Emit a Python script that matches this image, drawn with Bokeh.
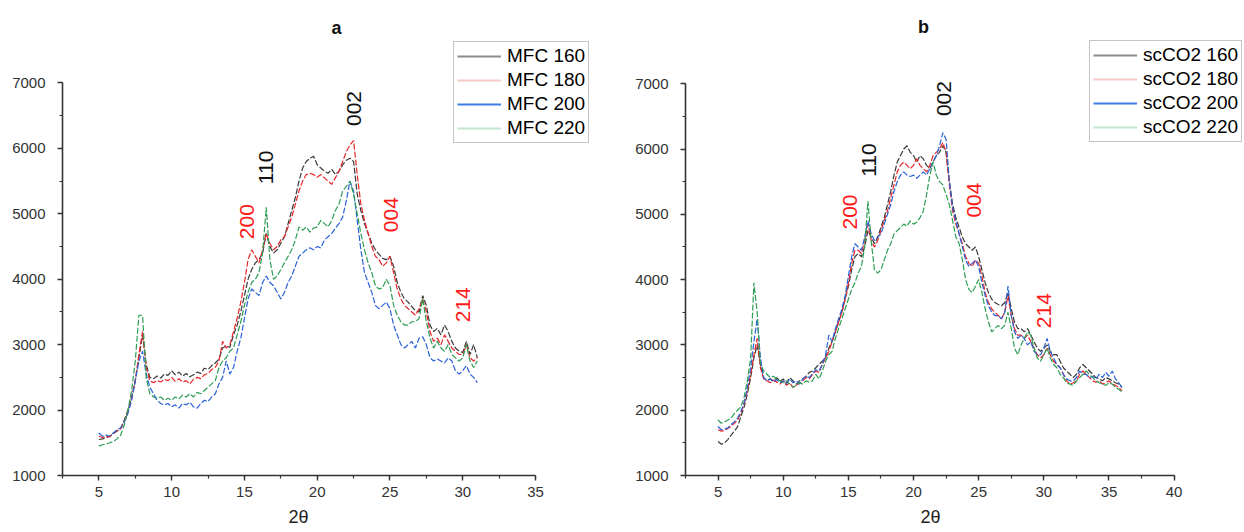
import math
from bokeh.plotting import figure
from bokeh.layouts import row
from bokeh.models import Legend, LegendItem, Label, SingleIntervalTicker, Range1d, Title
from bokeh.embed import file_html
from bokeh.resources import INLINE

# ---------------- data ----------------
two_theta_a = [
    5.0, 5.25, 5.5, 5.75, 6.0, 6.25, 6.5, 6.75, 7.0, 7.25, 7.5, 7.75,
    8.0, 8.25, 8.5, 8.75, 9.0, 9.25, 9.5, 9.75, 10.0, 10.25, 10.5, 10.75,
    11.0, 11.25, 11.5, 11.75, 12.0, 12.25, 12.5, 12.75, 13.0, 13.25, 13.5, 13.75,
    14.0, 14.25, 14.5, 14.75, 15.0, 15.25, 15.5, 15.75, 16.0, 16.25, 16.5, 16.75,
    17.0, 17.25, 17.5, 17.75, 18.0, 18.25, 18.5, 18.75, 19.0, 19.25, 19.5, 19.75,
    20.0, 20.25, 20.5, 20.75, 21.0, 21.25, 21.5, 21.75, 22.0, 22.25, 22.5, 22.75,
    23.0, 23.25, 23.5, 23.75, 24.0, 24.25, 24.5, 24.75, 25.0, 25.25, 25.5, 25.75,
    26.0, 26.25, 26.5, 26.75, 27.0, 27.25, 27.5, 27.75, 28.0, 28.25, 28.5, 28.75,
    29.0, 29.25, 29.5, 29.75, 30.0, 30.25, 30.5, 30.75, 31.0]

mfc_160 = [
    1550, 1560, 1580, 1600, 1640, 1680, 1720, 1850, 2000, 2200, 2450, 2800,
    3150, 2700, 2500, 2480, 2520, 2490, 2550, 2530, 2600, 2540, 2580, 2520,
    2560, 2510, 2540, 2580, 2560, 2640, 2620, 2680, 2720, 2780, 2950, 2980,
    2960, 3150, 3300, 3500, 3750, 4000, 4150, 4250, 4300, 4400, 4700, 4500,
    4400, 4450, 4550, 4650, 4850, 5050, 5250, 5500, 5700, 5800, 5850, 5880,
    5750, 5700, 5650, 5620, 5680, 5600, 5650, 5750, 5820, 5850, 5800, 5300,
    5050, 4850, 4700, 4550, 4450, 4380, 4320, 4300, 4350, 4200, 3950, 3800,
    3700, 3650, 3580, 3520, 3500, 3750, 3600, 3300, 3200, 3250, 3150, 3300,
    3200, 3050, 2950, 2900, 2880, 3050, 2850, 3000, 2800]

mfc_180 = [
    1600, 1580, 1600, 1590, 1650, 1680, 1720, 1820, 1980, 2180, 2450, 2850,
    3200, 2650, 2450, 2420, 2450, 2430, 2470, 2450, 2500, 2440, 2480, 2430,
    2450, 2400, 2470, 2500, 2480, 2540, 2560, 2620, 2650, 2750, 3050, 2950,
    3000, 3200, 3400, 3650, 3950, 4300, 4450, 4350, 4250, 4450, 4700, 4550,
    4450, 4500, 4600, 4650, 4800, 4950, 5150, 5350, 5500, 5600, 5620, 5600,
    5560, 5600, 5550, 5500, 5450, 5550, 5650, 5800, 5950, 6050, 6120, 5600,
    5150, 4900, 4700, 4500, 4350, 4300, 4200, 4250, 4350, 4100, 3850, 3700,
    3600, 3550, 3500, 3450, 3550, 3700, 3500, 3200, 3050, 3100, 3000, 3150,
    3050, 2950, 2900, 2850, 2850, 3000, 2800, 2750, 2800]

mfc_200 = [
    1650, 1600, 1620, 1600, 1650, 1700, 1730, 1820, 1950, 2150, 2450, 2750,
    2900, 2550, 2350, 2250, 2150, 2100, 2080, 2100, 2050, 2080, 2030, 2100,
    2080, 2120, 2050, 2030, 2100, 2150, 2130, 2200, 2250, 2400, 2500, 2750,
    2550, 2650, 2900, 3100, 3400, 3700, 3850, 3800, 3750, 3950, 4050, 3950,
    3900, 3800, 3700, 3800, 3950, 4050, 4200, 4350, 4400, 4450, 4480, 4450,
    4500, 4480, 4600, 4650, 4700, 4780, 4850, 4950, 5200, 5500, 5350, 4900,
    4450, 4100, 3950, 3800, 3600, 3550, 3600, 3650, 3550, 3300, 3150, 3000,
    2950, 3000, 3050, 2950, 3100, 3120, 3000, 2800, 2750, 2780, 2750, 2720,
    2800, 2750, 2600, 2550, 2600, 2680, 2550, 2500, 2420]

mfc_220 = [
    1450, 1470, 1480, 1500, 1520, 1560, 1620, 1780, 2000, 2300, 2750, 3450,
    3450, 2500, 2250, 2200, 2180, 2200, 2150, 2180, 2150, 2200, 2170, 2230,
    2200, 2250, 2200, 2270, 2250, 2300, 2350, 2400, 2450, 2650, 2750, 2800,
    2900, 2950, 3150, 3350, 3600, 3800, 3950, 4000, 4100, 4400, 5100, 4300,
    4000, 4050, 4150, 4250, 4350, 4450, 4600, 4800, 4750, 4800, 4720, 4780,
    4800, 4900, 4850, 4800, 4900, 5050, 5150, 5350, 5420, 5500, 5300, 5000,
    4700, 4450, 4250, 4100, 3900, 3850, 3870, 4000, 3900, 3600, 3450, 3350,
    3300, 3300, 3350, 3350, 3400, 3700, 3350, 3100, 2950, 3050, 2950, 2900,
    3000, 2850, 2800, 2750, 2800, 3000, 2750, 2650, 2750]

two_theta_b = [
    5.0, 5.25, 5.5, 5.75, 6.0, 6.25, 6.5, 6.75, 7.0, 7.25, 7.5, 7.75,
    8.0, 8.25, 8.5, 8.75, 9.0, 9.25, 9.5, 9.75, 10.0, 10.25, 10.5, 10.75,
    11.0, 11.25, 11.5, 11.75, 12.0, 12.25, 12.5, 12.75, 13.0, 13.25, 13.5, 13.75,
    14.0, 14.25, 14.5, 14.75, 15.0, 15.25, 15.5, 15.75, 16.0, 16.25, 16.5, 16.75,
    17.0, 17.25, 17.5, 17.75, 18.0, 18.25, 18.5, 18.75, 19.0, 19.25, 19.5, 19.75,
    20.0, 20.25, 20.5, 20.75, 21.0, 21.25, 21.5, 21.75, 22.0, 22.25, 22.5, 22.75,
    23.0, 23.25, 23.5, 23.75, 24.0, 24.25, 24.5, 24.75, 25.0, 25.25, 25.5, 25.75,
    26.0, 26.25, 26.5, 26.75, 27.0, 27.25, 27.5, 27.75, 28.0, 28.25, 28.5, 28.75,
    29.0, 29.25, 29.5, 29.75, 30.0, 30.25, 30.5, 30.75, 31.0, 31.25, 31.5, 31.75,
    32.0, 32.25, 32.5, 32.75, 33.0, 33.25, 33.5, 33.75, 34.0, 34.25, 34.5, 34.75,
    35.0, 35.25, 35.5, 35.75, 36.0]

scco2_160 = [
    1520, 1480, 1500, 1550, 1620, 1680, 1750, 1900, 2050, 2250, 2500, 2800,
    3000, 2700, 2500, 2450, 2480, 2450, 2500, 2440, 2480, 2420, 2500, 2450,
    2400, 2450, 2480, 2520, 2580, 2600, 2650, 2700, 2750, 2800, 2950, 3050,
    3200, 3350, 3500, 3700, 3900, 4150, 4350, 4400, 4350, 4500, 4750, 4650,
    4550, 4650, 4800, 4950, 5150, 5350, 5600, 5800, 5900, 6000, 6050, 5950,
    5900, 5800, 5900, 5850, 5750, 5700, 5800, 5900, 5950, 6050, 5950, 5500,
    5150, 4950, 4800, 4650, 4550, 4500, 4450, 4500, 4350, 4150, 3950, 3800,
    3700, 3650, 3620, 3600, 3650, 3800, 3550, 3350, 3250, 3250, 3200, 3250,
    3150, 3050, 2950, 2900, 2950, 3000, 2900, 2850, 2850, 2750, 2650, 2600,
    2550, 2500, 2550, 2650, 2700, 2650, 2600, 2550, 2500, 2480, 2450, 2500,
    2480, 2450, 2420, 2400, 2350]

scco2_180 = [
    1700, 1680, 1690, 1720, 1750, 1800, 1850, 1950, 2100, 2300, 2550, 2850,
    3100, 2650, 2480, 2450, 2420, 2460, 2430, 2400, 2450, 2380, 2420, 2350,
    2380, 2420, 2450, 2500, 2480, 2550, 2600, 2580, 2700, 2800, 2900, 3050,
    3200, 3350, 3500, 3700, 3950, 4250, 4450, 4450, 4400, 4600, 4850, 4600,
    4500, 4600, 4750, 4900, 5050, 5250, 5450, 5650, 5750, 5800, 5750, 5700,
    5750, 5850, 5750, 5700, 5650, 5750, 5900, 5950, 6000, 6100, 5950, 5450,
    5050, 4850, 4700, 4550, 4350, 4250, 4200, 4300, 4250, 4050, 3800, 3650,
    3550, 3500, 3450, 3400, 3500, 3750, 3450, 3250, 3150, 3150, 3100, 3150,
    3050, 2950, 2850, 2800, 2850, 2950, 2850, 2750, 2700, 2650, 2550, 2450,
    2400, 2420, 2450, 2550, 2600, 2550, 2500, 2450, 2430, 2450, 2400, 2420,
    2450, 2400, 2380, 2350, 2300]

scco2_200 = [
    1750, 1700, 1710, 1730, 1780, 1820, 1880, 1980, 2120, 2350, 2650, 3050,
    3400, 2800, 2500, 2450, 2480, 2430, 2470, 2420, 2450, 2400, 2480, 2420,
    2450, 2400, 2480, 2520, 2500, 2560, 2620, 2600, 2700, 2850, 3150, 3050,
    3250, 3400, 3550, 3750, 4050, 4350, 4550, 4500, 4450, 4650, 4900, 4700,
    4600, 4650, 4700, 4850, 5000, 5150, 5350, 5500, 5600, 5650, 5600, 5580,
    5600, 5550, 5600, 5650, 5600, 5700, 5800, 5900, 6050, 6250, 6150, 5500,
    5100, 4900, 4700, 4500, 4300, 4200, 4250, 4300, 4200, 3950, 3750, 3600,
    3500, 3450, 3450, 3400, 3500, 3900, 3450, 3200, 3100, 3150, 3100, 3000,
    3050, 2900, 2850, 2850, 2950, 3100, 2900, 2800, 2700, 2650, 2550, 2480,
    2450, 2450, 2500, 2600, 2550, 2550, 2500, 2520, 2480, 2550, 2500, 2580,
    2520, 2600, 2480, 2420, 2350]

scco2_220 = [
    1850, 1800, 1820, 1850, 1880, 1950, 2000, 2050, 2200, 2450, 2800, 3950,
    3500, 2700, 2600, 2550, 2500, 2520, 2480, 2450, 2420, 2450, 2400, 2350,
    2380, 2420, 2400, 2450, 2430, 2450, 2550, 2480, 2600, 2750, 2850, 2900,
    3100, 3250, 3400, 3550, 3700, 3850, 3950, 4100, 4200, 4500, 5200, 4600,
    4150, 4100, 4150, 4300, 4450, 4550, 4700, 4750, 4800, 4850, 4820, 4900,
    4850, 4880, 4950, 5050, 5300, 5600, 5800, 5600, 5500, 5450, 5300, 5150,
    4900, 4650, 4550, 4300, 4000, 3850, 3800, 3900, 4000, 3800, 3550, 3350,
    3200, 3250, 3300, 3250, 3300, 3500, 3250, 2950, 2850, 3000, 3100, 3200,
    3150, 2950, 2800, 2750, 2850, 2950, 2800, 2700, 2650, 2550, 2500, 2420,
    2400, 2380, 2450, 2500, 2550, 2600, 2550, 2500, 2450, 2420, 2400, 2380,
    2420, 2400, 2350, 2320, 2280]

labels_a = ["MFC 160", "MFC 180", "MFC 200", "MFC 220"]
labels_b = ["scCO2 160", "scCO2 180", "scCO2 200", "scCO2 220"]

peak_labels = ["002", "110", "200", "004", "214"]
peak_x_a = [22.5, 16.5, 15.15, 25.1, 30.0]
peak_y_a = [6342, 5454, 4612, 4720, 3342]
peak_x_b = [22.35, 16.6, 15.1, 24.65, 30.0]
peak_y_b = [6505, 5575, 4767, 4950, 3257]
peak_colors = ["#111111", "#111111", "#ff1a1a", "#ff1a1a", "#ff1a1a"]

# ---------------- styling ----------------
line_colors = ["#3a3a3a", "#e8262a", "#2a62d8", "#2e9e55"]
legend_colors = ["#8c8c8c", "#f6c9c9", "#3d7fe3", "#bfe6cc"]
FONT = "Liberation Sans"
NAN = float("nan")


def make_panel(width, min_left, min_bottom, xr, yr, xbound, xs, series, labels,
               px, py, legend_loc, title, title_xy, xlabel_offset):
    p = figure(width=width, height=532, title=None,
               x_range=Range1d(*xr), y_range=Range1d(*yr),
               output_backend="svg", toolbar_location=None,
               min_border_left=min_left, min_border_right=0,
               min_border_top=0, min_border_bottom=min_bottom)
    p.outline_line_color = None
    p.xgrid.visible = False
    p.ygrid.visible = False
    p.background_fill_color = "white"
    p.border_fill_color = "white"

    p.xaxis.ticker = SingleIntervalTicker(interval=5, num_minor_ticks=2)
    p.yaxis.ticker = SingleIntervalTicker(interval=1000, num_minor_ticks=2)
    p.xaxis.bounds = (2.5, xbound)
    p.yaxis.bounds = (1000, 7000)
    for ax in (p.xaxis[0], p.yaxis[0]):
        ax.axis_line_color = "#333333"
        ax.axis_line_width = 1.6
        ax.major_tick_line_color = "#333333"
        ax.major_tick_line_width = 1.4
        ax.minor_tick_line_color = "#333333"
        ax.minor_tick_line_width = 1.2
        ax.major_tick_in = 0
        ax.major_tick_out = 5
        ax.minor_tick_in = 0
        ax.minor_tick_out = 3
        ax.major_label_text_font = FONT
        ax.major_label_text_font_size = "15px"
        ax.major_label_text_color = "#333333"
    p.xaxis.major_label_standoff = 6
    p.yaxis.major_label_standoff = 12

    for ys, c in zip(series, line_colors):
        p.line(xs, ys, line_color=c, line_width=1.2, line_dash="6 2")

    items = []
    for lab, lc in zip(labels, legend_colors):
        d = p.line([NAN, NAN], [NAN, NAN], line_color=lc, line_width=2)
        items.append(LegendItem(label=lab, renderers=[d]))
    legend = Legend(items=items, location=legend_loc,
                    border_line_color="#8a8a8a", border_line_width=1.5,
                    background_fill_color="white", background_fill_alpha=1.0,
                    label_text_font=FONT, label_text_font_size="19px",
                    label_text_color="#000000",
                    glyph_width=44, glyph_height=20, label_height=20,
                    spacing=2, padding=3, margin=0, label_standoff=6)
    p.add_layout(legend)

    for t, x, y, c in zip(peak_labels, px, py, peak_colors):
        p.add_layout(Label(x=x, y=y, text=t, angle=math.pi / 2,
                           text_align="left", text_baseline="middle",
                           text_font=FONT, text_font_size="21px",
                           text_color=c))

    p.add_layout(Label(x=title_xy[0], y=title_xy[1], text=title,
                       text_align="center", text_baseline="middle",
                       text_font=FONT, text_font_size="18px",
                       text_font_style="bold", text_color="#111111"))
    p.add_layout(Title(text="2θ", align="left", offset=xlabel_offset,
                       text_font=FONT, text_font_size="18px",
                       text_font_style="normal", text_color="#222222",
                       standoff=11), "below")
    return p


pa = make_panel(620, 62, 57, (2.5, 40.84), (1000, 8261), 35,
                two_theta_a, [mfc_160, mfc_180, mfc_200, mfc_220], labels_a,
                peak_x_a, peak_y_a, (391, 332), "a", (21.33, 7848), 226)
pb = make_panel(624, 65, 55, (2.5, 45.40), (1000, 8275), 40,
                two_theta_b, [scco2_160, scco2_180, scco2_200, scco2_220], labels_b,
                peak_x_b, peak_y_b, (404, 333), "b", (20.77, 7863), 235)

layout = row(pa, pb)
open("out.html", "w").write(file_html(layout, INLINE))
